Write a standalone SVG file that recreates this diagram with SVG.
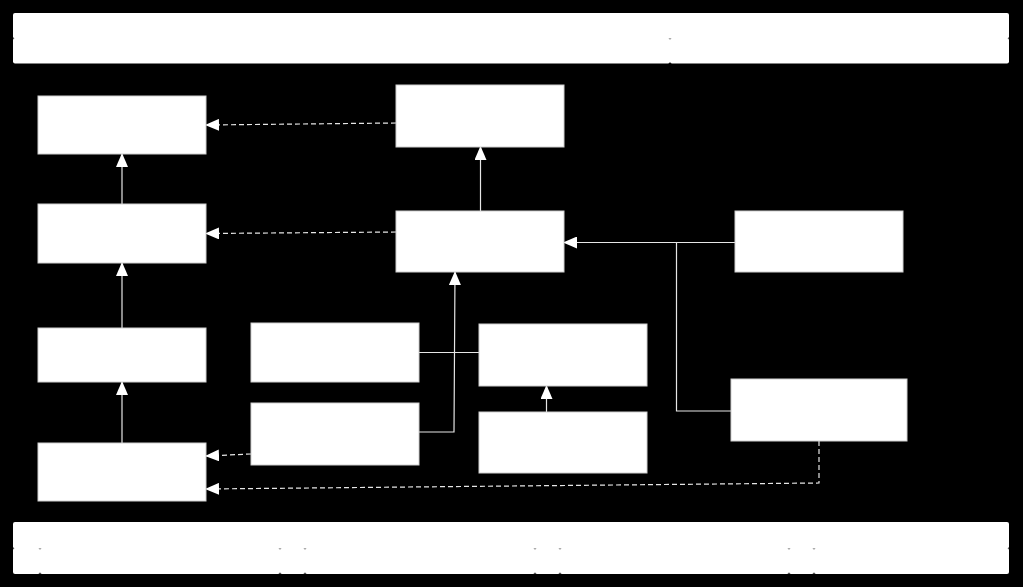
<svg xmlns="http://www.w3.org/2000/svg" width="1023" height="587" viewBox="0 0 1023 587">
<defs>
<style>
.bar{fill:#fff;stroke:none}
.box{fill:#fff;stroke:#cfcfcf;stroke-width:1}
.ln{fill:none;stroke:#e6e6e6;stroke-width:1.2}
.dash{fill:none;stroke:#e6e6e6;stroke-width:1.2;stroke-dasharray:5 3}
</style>
<marker id="arr" viewBox="0 0 14 12" refX="13" refY="6" markerWidth="14" markerHeight="12" markerUnits="userSpaceOnUse" orient="auto">
<path d="M0,0 L14,6 L0,12 Z" fill="#fff"/>
</marker>
</defs>
<rect width="1023" height="587" fill="#000"/>
<g id="topbar">
<rect class="bar" x="13" y="13" width="996" height="25.5" rx="2"/>
<rect class="bar" x="13" y="38" width="657" height="25.5" rx="2"/>
<rect class="bar" x="670" y="38" width="339" height="25.5" rx="2"/>
</g>
<g id="bottombar">
<rect class="bar" x="13" y="522" width="996" height="26.5" rx="2"/>
<rect class="bar" x="13" y="548" width="27" height="26" rx="2"/>
<rect class="bar" x="40" y="548" width="240" height="26" rx="2"/>
<rect class="bar" x="280" y="548" width="25" height="26" rx="2"/>
<rect class="bar" x="305" y="548" width="230" height="26" rx="2"/>
<rect class="bar" x="535" y="548" width="25" height="26" rx="2"/>
<rect class="bar" x="560" y="548" width="229" height="26" rx="2"/>
<rect class="bar" x="789" y="548" width="25" height="26" rx="2"/>
<rect class="bar" x="814" y="548" width="195" height="26" rx="2"/>
</g>
<g id="connectors">
<path class="dash" d="M396,123 L206,125" marker-end="url(#arr)"/>
<path class="dash" d="M396,232 L206,233.5" marker-end="url(#arr)"/>
<path class="ln" d="M122,204 L122,154" marker-end="url(#arr)"/>
<path class="ln" d="M122,328 L122,263" marker-end="url(#arr)"/>
<path class="ln" d="M122,443 L122,382" marker-end="url(#arr)"/>
<path class="ln" d="M480.5,211 L480.5,147" marker-end="url(#arr)"/>
<path class="ln" d="M419,432 L454,432 L455,272" marker-end="url(#arr)"/>
<path class="ln" d="M419,352.5 L479,352.5"/>
<path class="ln" d="M546.5,412 L546.5,386" marker-end="url(#arr)"/>
<path class="ln" d="M735,242.5 L564,242.5" marker-end="url(#arr)"/>
<path class="ln" d="M731,411 L676.5,411 L676.5,242.5"/>
<path class="dash" d="M819,441 L819,483 L206,489" marker-end="url(#arr)"/>
<path class="dash" d="M251,454 L206,456" marker-end="url(#arr)"/>
</g>
<g id="nodeA"><rect class="box" x="38" y="96" width="168" height="58"/></g>
<g id="nodeB"><rect class="box" x="38" y="204" width="168" height="59"/></g>
<g id="nodeC"><rect class="box" x="38" y="328" width="168" height="54"/></g>
<g id="nodeD"><rect class="box" x="38" y="443" width="168" height="58"/></g>
<g id="nodeE"><rect class="box" x="396" y="85" width="168" height="62"/></g>
<g id="nodeF"><rect class="box" x="396" y="211" width="168" height="61"/></g>
<g id="nodeG"><rect class="box" x="735" y="211" width="168" height="61"/></g>
<g id="nodeH"><rect class="box" x="251" y="323" width="168" height="59"/></g>
<g id="nodeI"><rect class="box" x="251" y="403" width="168" height="62"/></g>
<g id="nodeJ"><rect class="box" x="479" y="324" width="168" height="62"/></g>
<g id="nodeK"><rect class="box" x="479" y="412" width="168" height="61"/></g>
<g id="nodeL"><rect class="box" x="731" y="379" width="176" height="62"/></g>
</svg>
